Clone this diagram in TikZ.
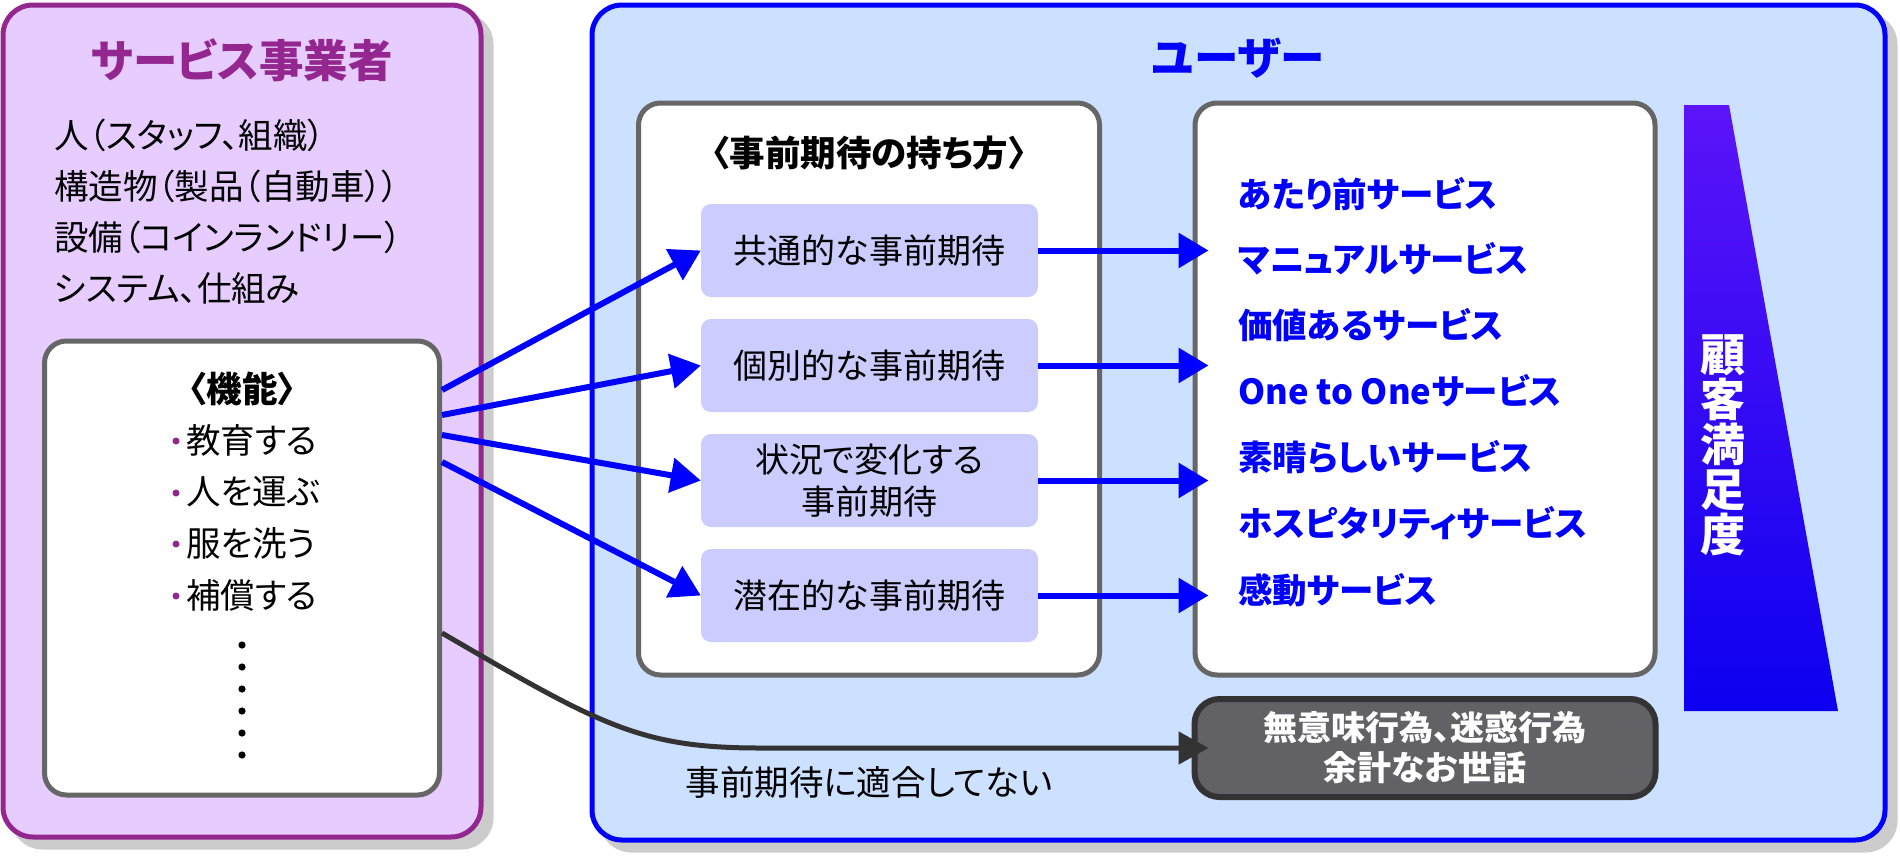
\documentclass[tikz,border=0pt]{standalone}
\usepackage{fontspec}
\setmainfont{Noto Sans CJK JP}[RawFeature=+palt]
\usetikzlibrary{arrows.meta,calc}
\definecolor{pborder}{HTML}{93278F}
\definecolor{pfill}{HTML}{E6CCFF}
\definecolor{bborder}{HTML}{0000FF}
\definecolor{bfill}{HTML}{CCE0FF}
\definecolor{mfill}{HTML}{CCCCFF}
\definecolor{gborder}{HTML}{666666}
\definecolor{dfill}{HTML}{616166}
\definecolor{dborder}{HTML}{333333}
\definecolor{shadowc}{HTML}{CCCCCC}
\definecolor{gradtop}{HTML}{5C14F8}
\definecolor{gradbot}{HTML}{0C00F0}
\newcommand{\fsz}[2]{\fontsize{#1pt}{#2pt}\selectfont}
\begin{document}
\begin{tikzpicture}[x=1pt,y=-1pt,
  panel/.style={draw, line width=5pt, rounded corners=30pt, inner sep=0pt},
  whitebox/.style={draw=gborder, fill=white, line width=5pt, rounded corners=22pt, inner sep=0pt},
  expbox/.style={fill=mfill, rounded corners=10pt, minimum width=337pt, minimum height=93pt, inner sep=0pt, align=center, font=\fsz{34}{42}},
  body/.style={inner sep=0pt, font=\fsz{34.5}{40}},
  bodyb/.style={inner sep=0pt, font=\fsz{35.5}{40}\bfseries},
  svc/.style={inner sep=0pt, anchor=west, text=bborder, font=\fsz{34.5}{40}\bfseries},
  bluearrow/.style={draw=bborder, line width=6pt, -{Triangle[length=30pt,width=34pt]}},
  blackarrow/.style={draw=dborder, line width=5pt, -{Triangle[length=30pt,width=32pt]}},
]
\useasboundingbox (0,0) rectangle (1900,860);
% shadows
\fill[shadowc, rounded corners=32pt] (10.5,12.5) rectangle (493.5,849.5);
\fill[shadowc, rounded corners=32pt] (599.5,12.5) rectangle (1897.5,852.5);
% panels
\node[panel, draw=pborder, fill=pfill, minimum width=478pt, minimum height=832pt] (prov) at (242,421) {};
\node[panel, draw=bborder, fill=bfill, minimum width=1293pt, minimum height=835pt] (user) at (1238.5,422.5) {};
% titles
\node[inner sep=0pt, font=\fsz{44.5}{50}\bfseries, text=pborder] (provT) at (242,60) {サービス事業者};
\node[inner sep=0pt, font=\fsz{44.5}{50}\bfseries, text=bborder] (userT) at (1238,58) {ユーザー};
% provider lines
\node[body, anchor=west] (l1) at (54,135) {人（スタッフ、組織）};
\node[body, anchor=west] (l2) at (54,186) {構造物（製品（自動車））};
\node[body, anchor=west] (l3) at (54,237) {設備（コインランドリー）};
\node[body, anchor=west] (l4) at (54,288) {システム、仕組み};
% function box
\node[whitebox, minimum width=395pt, minimum height=454pt] (fbox) at (242,568) {};
\node[bodyb] (fT) at (242,389) {〈機能〉};
\node[body, anchor=west] (i1) at (186,440) {教育する};
\node[body, anchor=west] (i2) at (186,492) {人を運ぶ};
\node[body, anchor=west] (i3) at (186,543) {服を洗う};
\node[body, anchor=west] (i4) at (186,595) {補償する};
\foreach \n in {i1,i2,i3,i4} \fill[pborder] ($(\n.west)+(-10,1)$) circle (3.5pt);
\foreach \k in {0,...,5} \fill (242,645+22*\k) circle (3.6pt);
% expectation box
\node[whitebox, minimum width=461pt, minimum height=572pt] (mbox) at (869,389) {};
\node[bodyb] (mT) at (869,153) {〈事前期待の持ち方〉};
\node[expbox] (m1) at (869.5,250.5) {共通的な事前期待};
\node[expbox] (m2) at (869.5,365.5) {個別的な事前期待};
\node[expbox] (m3) at (869.5,480.5) {状況で変化する\\事前期待};
\node[expbox] (m4) at (869.5,595.5) {潜在的な事前期待};
% service box
\node[whitebox, minimum width=460pt, minimum height=572pt] (rbox) at (1425,389) {};
\node[svc] (v1) at (1238,194) {あたり前サービス};
\node[svc] (v2) at (1238,259) {マニュアルサービス};
\node[svc] (v3) at (1238,325) {価値あるサービス};
\node[svc] (v4) at (1238,391) {One to Oneサービス};
\node[svc] (v5) at (1238,457) {素晴らしいサービス};
\node[svc] (v6) at (1238,523) {ホスピタリティサービス};
\node[svc] (v7) at (1238,590) {感動サービス};
% dark box
\node[draw=dborder, fill=dfill, line width=6pt, rounded corners=25pt, minimum width=461pt, minimum height=98pt, inner sep=0pt, text=white, align=center, font=\fsz{34}{40}\bfseries] (dbox) at (1425,748) {無意味行為、迷惑行為\\余計なお世話};
% satisfaction gauge
\shade[top color=gradtop, bottom color=gradbot] (1684,105) -- (1729,105) -- (1838,711) -- (1684,711) -- cycle;
\node[inner sep=0pt, text=white, align=center, font=\fsz{45}{45}\bfseries] (csat) at (1723,445) {顧\\客\\満\\足\\度};
% connectors
\coordinate (s1) at ($(fbox.east)+(0,-178)$);
\coordinate (s2) at ($(fbox.east)+(0,-153)$);
\coordinate (s3) at ($(fbox.east)+(0,-133)$);
\coordinate (s4) at ($(fbox.east)+(0,-106)$);
\coordinate (s5) at ($(fbox.east)+(0,65)$);
\draw[bluearrow] (s1) -- (m1.west);
\draw[bluearrow] (s2) -- (m2.west);
\draw[bluearrow] (s3) -- (m3.west);
\draw[bluearrow] (s4) -- (m4.west);
\foreach \n in {m1,m2,m3,m4} \draw[bluearrow] (\n.east) -- ($(\n.east -| rbox.west)+(16,0)$);
\draw[blackarrow] (s5) .. controls (600,725) and (640,748) .. (760,748) -- ($(dbox.west)+(17,0)$);
\node[body] (lbl) at (869,782) {事前期待に適合してない};
\end{tikzpicture}
\end{document}
